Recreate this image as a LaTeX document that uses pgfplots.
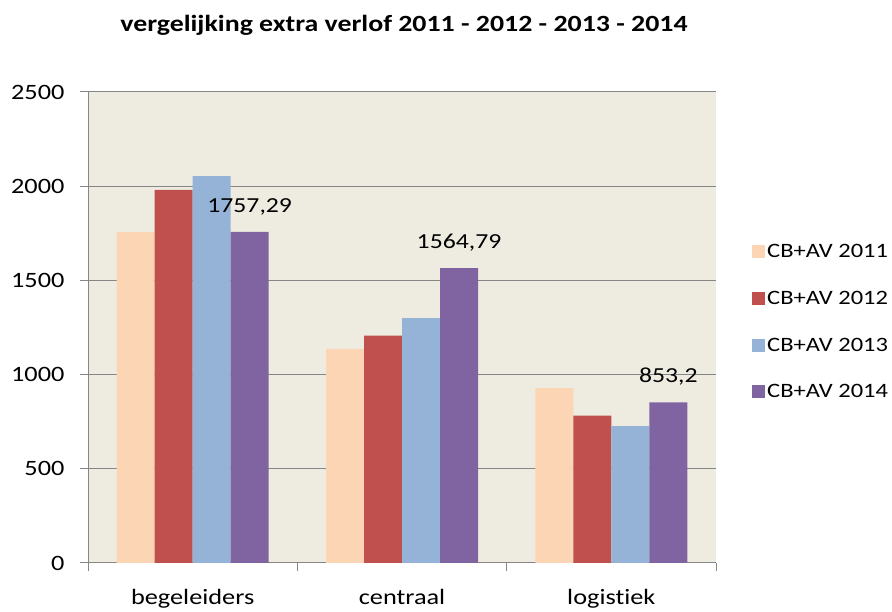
\documentclass[border=0pt]{standalone}
\usepackage{pgfplots}
\pgfplotsset{compat=1.18}
\usepackage{fontspec}
\setmainfont[FakeStretch=1.2, Ligatures={NoCommon}]{Carlito}
\definecolor{cA}{HTML}{FCD5B5}
\definecolor{cB}{HTML}{C0504D}
\definecolor{cC}{HTML}{95B3D7}
\definecolor{cD}{HTML}{8064A2}
\definecolor{bgc}{HTML}{EEECE1}
\definecolor{gridc}{HTML}{868686}
\begin{document}
\begin{tikzpicture}[x=1bp,y=1bp]
\path[use as bounding box] (0,0) rectangle (892,612);
\begin{axis}[
  at={(88bp,49bp)}, anchor=south west,
  scale only axis, width=628bp, height=471bp,
  ybar=0pt, bar width=38bp,
  xmin=-0.5, xmax=2.5, ymin=0, ymax=2500,
  xtick={-0.5,0.5,1.5,2.5},
  x tick label as interval,
  xticklabels={begeleiders,centraal,logistiek},
  ytick={0,500,1000,1500,2000,2500},
  ymajorgrids, grid style={gridc, line width=1bp},
  axis x line*=bottom, axis y line*=left,
  axis line style={gridc, line width=1bp},
  tick style={gridc, line width=1bp},
  major tick length=8bp,
  tick align=outside,
  xtick pos=bottom, ytick pos=left,
  axis background/.style={fill=bgc},
  /pgf/number format/assume math mode=true,
  /pgf/number format/1000 sep={},
  yticklabel style={font=\fontsize{22}{26}\selectfont, xshift=-12bp},
  xticklabel style={font=\fontsize{22}{26}\selectfont, yshift=-15bp},
  legend style={at={(1,0.512)}, anchor=west, xshift=36bp, draw=none, fill=none,
    font=\fontsize{20.5}{24}\selectfont, row sep=28bp, inner sep=0pt},
  legend cell align=left,
  legend image code/.code={\fill[#1] (-6bp,-6.5bp) rectangle (7bp,6.5bp);},
]
\addplot[fill=cA, draw=none] coordinates {(0,1756) (1,1136) (2,928)};
\addplot[fill=cB, draw=none] coordinates {(0,1981) (1,1207) (2,782)};
\addplot[fill=cC, draw=none] coordinates {(0,2053) (1,1300) (2,727)};
\addplot[fill=cD, draw=none, nodes near coords, point meta=explicit symbolic,
  every node near coord/.append style={font=\fontsize{21.5}{25}\selectfont, black, yshift=13bp}]
  coordinates {(0,1757.29) [1757,29] (1,1564.79) [1564,79] (2,853.2) [853,2]};
\legend{CB+AV 2011, CB+AV 2012, CB+AV 2013, CB+AV 2014}
\end{axis}
\node[font=\bfseries\fontsize{23.3}{27}\selectfont] at (404,587) {vergelijking extra verlof 2011 - 2012 - 2013 - 2014};
\end{tikzpicture}
\end{document}
